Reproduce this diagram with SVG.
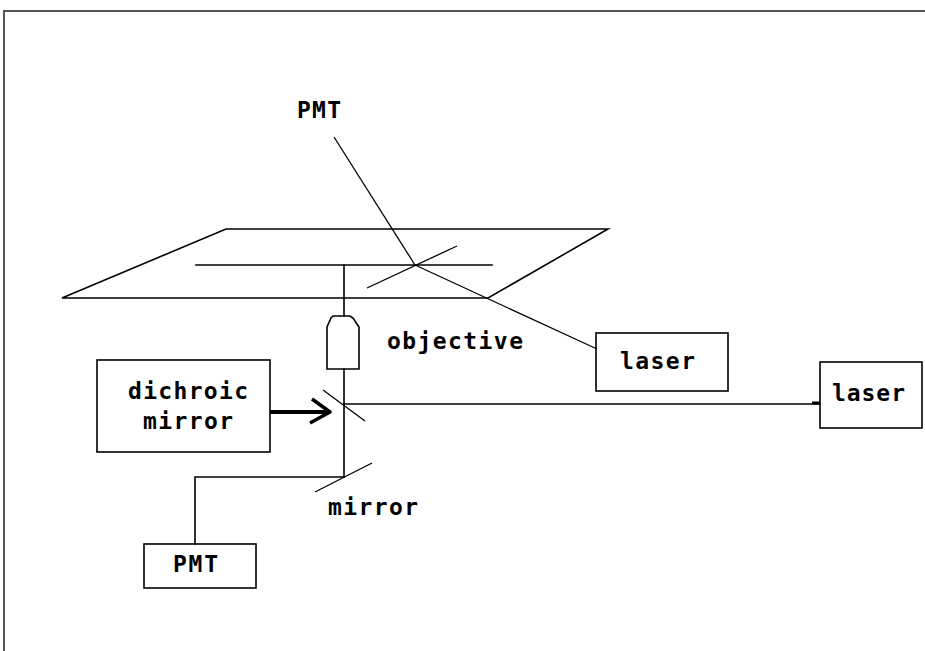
<svg xmlns="http://www.w3.org/2000/svg" width="925" height="651" viewBox="0 0 925 651">
  <style>
    .ln { fill: none; stroke: #000; stroke-width: 1.6; stroke-linecap: square; }
    .dg { fill: none; stroke: #000; stroke-width: 1.3; }
    .box { fill: #fff; stroke: #000; stroke-width: 1.6; }
    .lbl { font-family: "DejaVu Sans Mono", "Liberation Mono", monospace; font-weight: bold; font-size: 23px; fill: #000; }
  </style>
  <rect width="925" height="651" fill="#fff"/>
  <!-- frame -->
  <path d="M4,651 V11 H925" fill="none" stroke="#555" stroke-width="2"/>

  <!-- sample stage -->
  <g id="stage">
    <polygon class="ln" points="62,298 226,229 608,229 488,298"/>
    <line class="ln" x1="196" y1="265" x2="492" y2="265"/>
    <line class="dg" x1="367" y1="288" x2="457" y2="246"/>
  </g>

  <g id="pmt-top">
    <text class="lbl" x="297" y="118" textLength="44" lengthAdjust="spacing">PMT</text>
  </g>

  <g id="objective">
    <path class="ln" d="M333,316 L350,316 L353,318 L359,327 L359,369 L327,369 L327,327 L331,318 Z"/>
    <text class="lbl" x="387" y="349" textLength="136" lengthAdjust="spacing">objective</text>
  </g>

  <g id="laser-1">
    <rect class="box" x="596" y="333" width="132" height="58"/>
    <text class="lbl" x="620" y="369" textLength="75" lengthAdjust="spacing">laser</text>
  </g>

  <g id="laser-2">
    <rect class="box" x="820" y="362" width="102" height="66"/>
    <text class="lbl" x="832" y="401" textLength="73" lengthAdjust="spacing">laser</text>
  </g>

  <g id="dichroic">
    <rect class="box" x="97" y="360" width="173" height="92"/>
    <text class="lbl" x="128" y="399" textLength="120" lengthAdjust="spacing">dichroic</text>
    <text class="lbl" x="143" y="429" textLength="90" lengthAdjust="spacing">mirror</text>
    <line class="dg" x1="323" y1="390" x2="365" y2="421"/>
  </g>

  <g id="mirror">
    <line class="dg" x1="315" y1="492" x2="372" y2="463"/>
    <text class="lbl" x="328" y="515" textLength="90" lengthAdjust="spacing">mirror</text>
  </g>

  <g id="pmt-bottom">
    <rect class="box" x="144" y="544" width="112" height="44"/>
    <text class="lbl" x="173" y="572" textLength="45" lengthAdjust="spacing">PMT</text>
  </g>

  <!-- beam paths -->
  <g id="connectors">
    <line class="dg" x1="334" y1="137" x2="415" y2="265"/>
    <line class="dg" x1="415" y1="265" x2="597" y2="349"/>
    <line class="ln" x1="344" y1="265" x2="344" y2="316"/>
    <line class="ln" x1="344" y1="369" x2="344" y2="477"/>
    <line class="ln" x1="344" y1="404" x2="820" y2="404"/>
    <line x1="812" y1="403" x2="820" y2="403" stroke="#000" stroke-width="3"/>
    <polyline class="ln" points="344,477 195,477 195,544"/>
    <line x1="270" y1="412" x2="328" y2="412" stroke="#000" stroke-width="4"/>
    <polyline points="312,399 330,412 310,423" fill="none" stroke="#000" stroke-width="3.5" stroke-linejoin="round"/>
  </g>
</svg>
